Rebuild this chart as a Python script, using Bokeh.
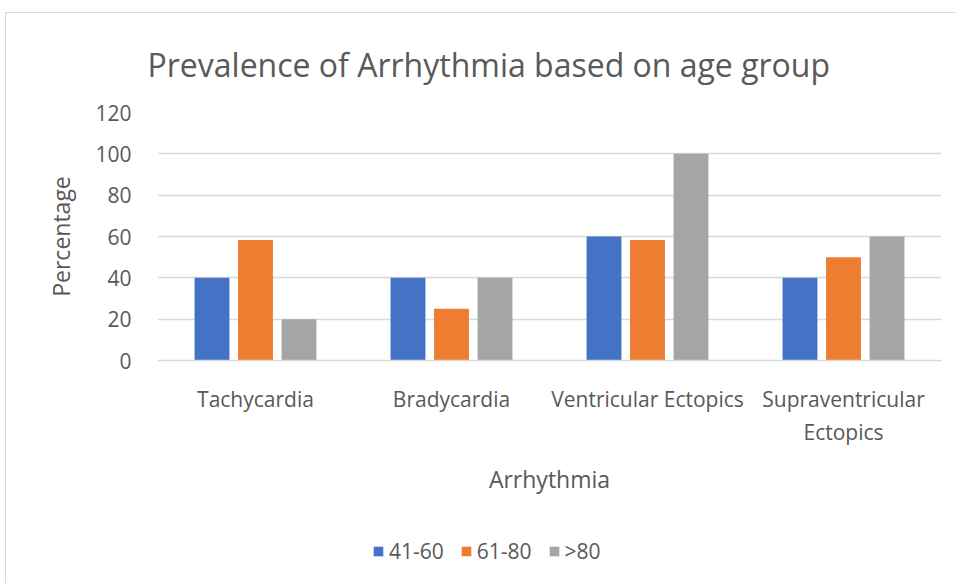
from bokeh.plotting import figure
from bokeh.models import ColumnDataSource, Legend, LegendItem, FactorRange
from bokeh.layouts import column
from bokeh.transform import dodge
from bokeh.embed import file_html
from bokeh.resources import INLINE

categories = ["Tachycardia", "Bradycardia", "Ventricular Ectopics", "Supraventricular\nEctopics"]
series_names = ["41-60", "61-80", ">80"]
age_41_60 = [40, 40, 60, 40]
age_61_80 = [58.3, 25, 58.3, 50]
age_over_80 = [20, 40, 100, 60]
colors = ["#4472C4", "#ED7D31", "#A5A5A5"]
y_ticks = [0, 20, 40, 60, 80, 100, 120]

FONT = "Open Sans"
TXT = "#595959"

source = ColumnDataSource(data=dict(cat=categories, a=age_41_60, b=age_61_80, c=age_over_80))

p = figure(x_range=FactorRange(*categories), y_range=(0, 120),
           width=950, height=500, output_backend="svg", toolbar_location=None,
           frame_width=784, frame_height=248,
           min_border_left=151, min_border_right=15, min_border_top=99, min_border_bottom=153,
           title="Prevalence of Arrhythmia based on age group")

renderers = []
for col, off, color in zip(["a", "b", "c"], [-0.222, 0.0, 0.222], colors):
    r = p.vbar(x=dodge("cat", off, range=p.x_range), top=col, width=0.178, source=source,
               fill_color=color, line_color=None)
    renderers.append(r)

p.title.align = "left"
p.title.text_font = FONT
p.title.text_font_size = "32px"
p.title.text_font_style = "normal"
p.title.text_color = TXT
p.title.offset = -10
p.title.standoff = 54

p.outline_line_color = None
p.xgrid.grid_line_color = None
p.ygrid.grid_line_color = "#d9d9d9"
p.ygrid.grid_line_width = 1.3

p.yaxis.ticker = y_ticks
p.yaxis.axis_line_color = None
p.yaxis.major_tick_line_color = None
p.yaxis.minor_tick_line_color = None
p.yaxis.major_label_text_font = FONT
p.yaxis.major_label_text_font_size = "21px"
p.yaxis.major_label_text_color = TXT
p.yaxis.major_label_standoff = 20
p.yaxis.axis_label = "Percentage"
p.yaxis.axis_label_text_font = FONT
p.yaxis.axis_label_text_font_size = "23px"
p.yaxis.axis_label_text_font_style = "normal"
p.yaxis.axis_label_text_color = TXT
p.yaxis.axis_label_standoff = 15

p.xaxis.axis_line_color = "#d9d9d9"
p.xaxis.axis_line_width = 1.3
p.xaxis.major_tick_line_color = None
p.xaxis.minor_tick_line_color = None
p.xaxis.major_label_text_font = FONT
p.xaxis.major_label_text_font_size = "21px"
p.xaxis.major_label_text_color = TXT
p.xaxis.major_label_standoff = 18
p.xaxis.axis_label = "Arrhythmia"
p.xaxis.axis_label_text_font = FONT
p.xaxis.axis_label_text_font_size = "23px"
p.xaxis.axis_label_text_font_style = "normal"
p.xaxis.axis_label_text_color = TXT
p.xaxis.axis_label_standoff = 14

# legend strip below the chart (same series; its bars are hidden, only the legend shows)
leg = figure(x_range=FactorRange(*categories), y_range=(1000, 1001),
             width=950, height=70, output_backend="svg", toolbar_location=None,
             min_border=0, x_axis_location=None, y_axis_location=None)
leg.grid.visible = False
leg.outline_line_color = None
leg_renderers = []
for col, off, color in zip(["a", "b", "c"], [-0.222, 0.0, 0.222], colors):
    r = leg.vbar(x=dodge("cat", off, range=leg.x_range), top=col, width=0.178, source=source,
                 fill_color=color, line_color=None, visible=False)
    leg_renderers.append(r)

legend = Legend(items=[LegendItem(label=n, renderers=[r]) for n, r in zip(series_names, leg_renderers)],
                orientation="horizontal", location=(215, 18),
                glyph_width=12, glyph_height=12, spacing=16, label_standoff=5,
                label_text_font=FONT, label_text_font_size="21px", label_text_color=TXT,
                inactive_fill_alpha=0,
                border_line_color=None, background_fill_alpha=0, padding=4, margin=0)
leg.add_layout(legend, "center")

layout = column(p, leg, spacing=0,
                styles={"border-left": "1px solid #d9d9d9", "border-top": "1px solid #d9d9d9",
                        "margin-left": "5px", "margin-top": "12px"})

open("out.html", "w").write(file_html(layout, INLINE))
